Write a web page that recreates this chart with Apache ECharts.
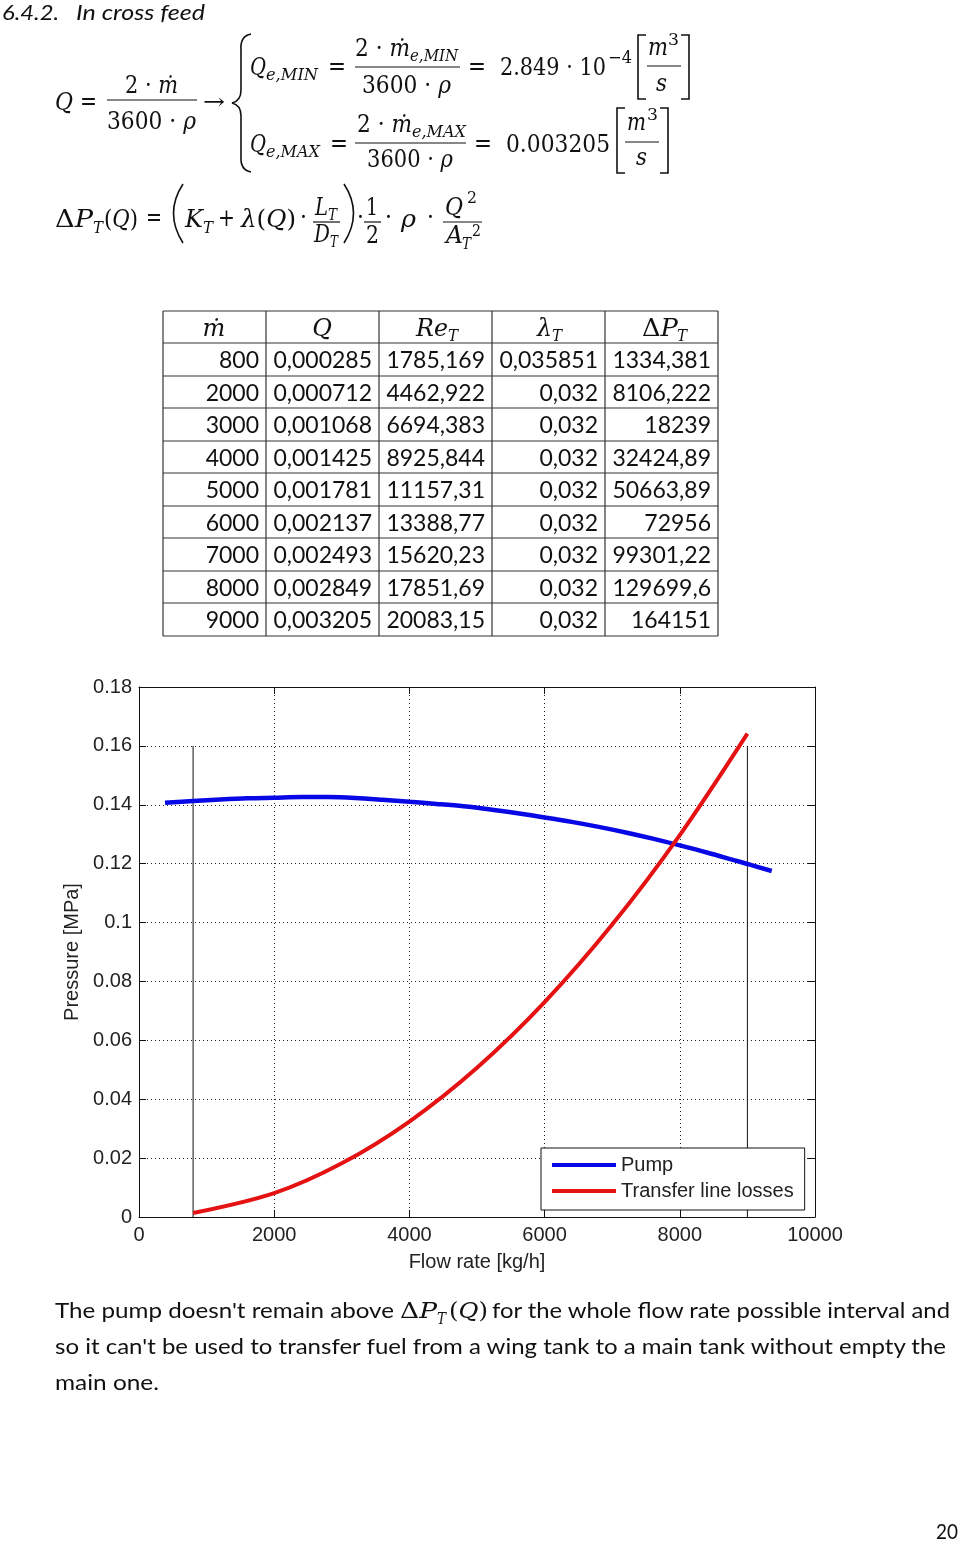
<!DOCTYPE html>
<html><head><meta charset="utf-8">
<script src="https://cdn.jsdelivr.net/npm/echarts@6/dist/echarts.min.js"></script>
<style>
html,body{margin:0;padding:0;background:#fff;}
#page{position:relative;width:960px;height:1541px;overflow:hidden;background:#fff;}
#chart{position:absolute;left:0;top:660px;width:960px;height:630px;}
#doc{position:absolute;left:0;top:0;pointer-events:none;}
#doc text{white-space:pre;}
</style></head>
<body><div id="page"><div id="chart"></div>
<svg id="doc" width="960" height="1541" xmlns="http://www.w3.org/2000/svg"></svg></div>
<script>
// ---------- data ----------
const massFlow   = [800, 2000, 3000, 4000, 5000, 6000, 7000, 8000, 9000];
const volFlow    = [0.000285, 0.000712, 0.001068, 0.001425, 0.001781, 0.002137, 0.002493, 0.002849, 0.003205];
const reynolds   = [1785.169, 4462.922, 6694.383, 8925.844, 11157.31, 13388.77, 15620.23, 17851.69, 20083.15];
const friction   = [0.035851, 0.032, 0.032, 0.032, 0.032, 0.032, 0.032, 0.032, 0.032];
const lineLossPa = [1334.381, 8106.222, 18239, 32424.89, 50663.89, 72956, 99301.22, 129699.6, 164151];
const pumpFlow     = [385, 800, 1200, 1600, 2000, 2400, 2800, 3200, 3600, 4000, 4400, 4800, 5200, 5600, 6000, 6400, 6800, 7200, 7600, 8000, 8400, 8800, 9000, 9360];
const pumpPressure = [0.1407, 0.1413, 0.1418, 0.1422, 0.1424, 0.1426, 0.1426, 0.1423, 0.1417, 0.1410, 0.1403, 0.1395, 0.1384, 0.1371, 0.1357, 0.1342, 0.1325, 0.1306, 0.1285, 0.1262, 0.1238, 0.1212, 0.1199, 0.1175];
const flowLimits = [800, 9000];
const limitTop = 0.16;
const seriesNames = ['Pump', 'Transfer line losses'];
const xName = 'Flow rate [kg/h]';
const yName = 'Pressure [MPa]';

// ---------- document text (svg) ----------
const NS = 'http://www.w3.org/2000/svg';
const svg = document.getElementById('doc');
const MATH = "'DejaVu Serif', 'Liberation Serif', serif";
const SANS = "Lato, 'Noto Sans', sans-serif";
function T(parts, x, y, size, o) {
  o = o || {};
  const e = document.createElementNS(NS, 'text');
  e.setAttribute('x', x); e.setAttribute('y', y);
  e.setAttribute('font-size', size);
  e.setAttribute('font-family', o.fam || MATH);
  e.setAttribute('fill', o.fill || '#111');
  if (o.anchor) e.setAttribute('text-anchor', o.anchor);
  if (typeof parts === 'string') parts = [[parts, o.it]];
  parts.forEach(p => {
    const s = document.createElementNS(NS, 'tspan');
    if (p[1]) s.setAttribute('font-style', 'italic');
    s.textContent = p[0];
    e.appendChild(s);
  });
  if (o.w) { e.setAttribute('textLength', o.w); e.setAttribute('lengthAdjust', 'spacingAndGlyphs'); }
  svg.appendChild(e);
}
function L(x1, y1, x2, y2, w, c) {
  const e = document.createElementNS(NS, 'line');
  e.setAttribute('x1', x1); e.setAttribute('y1', y1); e.setAttribute('x2', x2); e.setAttribute('y2', y2);
  e.setAttribute('stroke', c || '#111'); e.setAttribute('stroke-width', w || 1.2);
  svg.appendChild(e);
}
function P(d, w) {
  const e = document.createElementNS(NS, 'path');
  e.setAttribute('d', d); e.setAttribute('fill', 'none');
  e.setAttribute('stroke', '#111'); e.setAttribute('stroke-width', w || 1.4);
  svg.appendChild(e);
}
const M = 25, S = 17;
// heading
T('6.4.2.', 2, 20, 22, {fam: SANS, it: true, w: 57});
T('In cross feed', 76, 20, 22, {fam: SANS, it: true, w: 129});
// Q = 2m/(3600 rho)
T('Q', 55, 110, M, {it: true, w: 18});
T('=', 80, 109, M, {w: 17});
T([['2 · ', 0], ['ṁ', 1]], 125, 93, M, {w: 53});
L(107, 100, 197, 100);
T([['3600 · ', 0], ['ρ', 1]], 107, 129, M, {w: 89});
T('→', 203, 109, 22, {w: 22});
P('M251,34 Q240,36 241,50 L241,90 Q241,101 232,103 Q241,105 241,116 L241,156 Q240,170 251,172', 1.6);
// row 1
T('Q', 250, 75, M, {it: true, w: 16});
T('e,MIN', 266, 80, S, {it: true, w: 52});
T('=', 328, 74, M, {w: 18});
T([['2 · ', 0], ['ṁ', 1]], 355, 56, M, {w: 55});
T('e,MIN', 410, 61, S, {it: true, w: 48});
L(355, 67, 460, 67);
T([['3600 · ', 0], ['ρ', 1]], 362, 93, M, {w: 89});
T('=', 468, 74, M, {w: 18});
T('2.849 · 10', 500, 75, M, {w: 106});
T('−4', 608, 63, S, {w: 24});
P('M646,35 L638,35 L638,99 L646,99', 1.6);
T('m', 648, 55, M, {it: true, w: 20});
T('3', 668, 45, S, {w: 11});
L(647, 66, 681, 66);
T('s', 656, 91, M, {it: true, w: 11});
P('M681,35 L689,35 L689,99 L681,99', 1.6);
// row 2
T('Q', 250, 152, M, {it: true, w: 16});
T('e,MAX', 266, 157, S, {it: true, w: 54});
T('=', 330, 151, M, {w: 18});
T([['2 · ', 0], ['ṁ', 1]], 357, 132, M, {w: 55});
T('e,MAX', 412, 137, S, {it: true, w: 54});
L(355, 143, 466, 143);
T([['3600 · ', 0], ['ρ', 1]], 367, 167, M, {w: 86});
T('=', 474, 151, M, {w: 18});
T('0.003205', 506, 152, M, {w: 104});
P('M625,108 L617,108 L617,173 L625,173', 1.6);
T('m', 627, 130, M, {it: true, w: 19});
T('3', 647, 120, S, {w: 11});
L(625, 142, 659, 142);
T('s', 636, 165, M, {it: true, w: 11});
P('M660,108 L668,108 L668,173 L660,173', 1.6);
// delta P line
T([['Δ', 0], ['P', 1]], 55, 227, M, {w: 38});
T('T', 93, 233, S, {it: true, w: 10});
T([['(', 0], ['Q', 1], [')', 0]], 104, 227, M, {w: 34});
T('=', 146, 225, M, {w: 16});
P('M183,184 Q164,213 183,243', 1.6);
T('K', 185, 227, M, {it: true, w: 18});
T('T', 203, 233, S, {it: true, w: 10});
T('+', 218, 226, M, {w: 17});
T([['λ', 1], ['(', 0], ['Q', 1], [')', 0]], 241, 227, M, {w: 55});
T('·', 300, 225, M, {w: 7});
T('L', 315, 215, M, {it: true, w: 13});
T('T', 328, 220, S, {it: true, w: 9});
L(313, 222, 340, 222);
T('D', 314, 242, M, {it: true, w: 16});
T('T', 330, 247, S, {it: true, w: 8});
P('M344,184 Q363,213 344,243', 1.6);
T('·', 357, 225, M, {w: 7});
T('1', 366, 215, M, {w: 12});
L(364, 222, 381, 222);
T('2', 366, 243, M, {w: 13});
T('·', 385, 225, M, {w: 7});
T('ρ', 401, 227, M, {it: true, w: 15});
T('·', 427, 225, M, {w: 7});
T('Q', 445, 215, M, {it: true, w: 18});
T('2', 467, 203, S, {w: 10});
L(443, 222, 482, 222);
T('A', 446, 243, M, {it: true, w: 17});
T('T', 462, 249, S, {it: true, w: 9});
T('2', 472, 236, S, {w: 9});

// ---------- table ----------
const colX = [163, 266, 379, 492, 605, 718];
const rowY = [311, 343, 376, 408, 441, 473, 506, 538, 571, 603, 636];
rowY.forEach(y => L(colX[0], y, colX[5], y, 1.2, '#333'));
colX.forEach(x => L(x, rowY[0], x, rowY[rowY.length - 1], 1.2, '#333'));
const hb = 336;
T('ṁ', 214, hb, 24, {it: true, anchor: 'middle'});
T('Q', 322, hb, 24, {it: true, anchor: 'middle'});
T('Re', 416, hb, 24, {it: true, w: 32});
T('T', 448, hb + 5, S, {it: true, w: 10});
T('λ', 537, hb, 24, {it: true, w: 15});
T('T', 552, hb + 5, S, {it: true, w: 10});
T([['Δ', 0], ['P', 1]], 642, hb, 24, {w: 36});
T('T', 677, hb + 5, S, {it: true, w: 10});
const fmt = v => String(v).replace('.', ',');
const cols = [massFlow, volFlow, reynolds, friction, lineLossPa];
for (let r = 0; r < massFlow.length; r++) {
  for (let c = 0; c < 5; c++) {
    T(fmt(cols[c][r]), colX[c + 1] - 7, rowY[r + 1] + 24.5, 23, {fam: SANS, anchor: 'end'});
  }
}

// ---------- paragraph ----------
T("The pump doesn't remain above", 55, 1318, 22, {fam: SANS, w: 339});
T([['Δ', 0], ['P', 1]], 400, 1318, 23, {w: 37});
T('T', 437, 1324, 16, {it: true, w: 9});
T([['(', 0], ['Q', 1], [')', 0]], 449, 1318, 23, {w: 39});
T('for the whole flow rate possible interval and', 492, 1318, 22, {fam: SANS, w: 458});
T("so it can't be used to transfer fuel from a wing tank to a main tank without empty the", 55, 1354, 22, {fam: SANS, w: 891});
T('main one.', 55, 1390, 22, {fam: SANS, w: 104});
T('20', 936, 1539, 22, {fam: SANS, w: 22});

// ---------- chart ----------
const chart = echarts.init(document.getElementById('chart'), null, {renderer: 'canvas'});
const FONT = "'Liberation Sans', Arial, sans-serif";
const TXT = '#222';
const axisCommon = {
  type: 'value',
  axisLine: {show: true, onZero: false, lineStyle: {color: '#111', width: 1}},
  axisTick: {show: true, inside: true, length: 7, lineStyle: {color: '#111'}},
};
const option = {
  animation: false,
  backgroundColor: 'transparent',
  grid: {left: 139, top: 27, width: 676, height: 530, containLabel: false},
  legend: {
    data: seriesNames,
    orient: 'vertical',
    left: 541, top: 488,
    icon: 'rect', itemWidth: 64, itemHeight: 4, itemGap: 6, itemTextGap: 6,
    padding: [7, 11, 9, 11],
    backgroundColor: '#fff', borderColor: '#111', borderWidth: 1, borderRadius: 0,
    textStyle: {fontFamily: FONT, fontSize: 20, color: TXT, lineHeight: 20},
    selectedMode: false
  },
  xAxis: [
    Object.assign({}, axisCommon, {
      min: 0, max: 10000, interval: 2000, position: 'bottom',
      name: xName, nameLocation: 'middle', nameGap: 35,
      nameTextStyle: {fontFamily: FONT, fontSize: 20, color: TXT},
      axisLabel: {fontFamily: FONT, fontSize: 20, color: TXT, margin: 8, formatter: v => String(v)},
      splitLine: {show: true, lineStyle: {color: '#222', type: [1, 3], width: 1}}
    }),
    Object.assign({}, axisCommon, {
      min: 0, max: 10000, interval: 2000, position: 'top',
      axisLabel: {show: false}, splitLine: {show: false}
    })
  ],
  yAxis: [
    Object.assign({}, axisCommon, {
      min: 0, max: 0.18, interval: 0.02, position: 'left',
      name: yName, nameLocation: 'middle', nameGap: 57, nameRotate: 90,
      nameTextStyle: {fontFamily: FONT, fontSize: 20, color: TXT},
      axisLabel: {fontFamily: FONT, fontSize: 20, color: TXT, margin: 7},
      splitLine: {show: true, lineStyle: {color: '#222', type: [1, 3], width: 1}}
    }),
    Object.assign({}, axisCommon, {
      min: 0, max: 0.18, interval: 0.02, position: 'right',
      axisLabel: {show: false}, splitLine: {show: false}
    })
  ],
  series: [
    ...flowLimits.map(f => ({
      type: 'line', name: 'limit ' + f, data: [[f, 0], [f, limitTop]],
      showSymbol: false, silent: true, z: 1,
      lineStyle: {color: '#111', width: 1}
    })),
    {
      type: 'line', name: seriesNames[0], z: 3,
      data: pumpFlow.map((x, i) => [x, pumpPressure[i]]),
      smooth: 0.33, showSymbol: false,
      itemStyle: {color: '#0808e6'},
      lineStyle: {color: '#0808e6', width: 4.5}
    },
    {
      type: 'line', name: seriesNames[1], z: 3,
      data: massFlow.map((x, i) => [x, lineLossPa[i] / 1e6]),
      smooth: 0.33, showSymbol: false,
      itemStyle: {color: '#e41212'},
      lineStyle: {color: '#e41212', width: 4}
    }
  ]
};
chart.setOption(option);
</script>
</body></html>
